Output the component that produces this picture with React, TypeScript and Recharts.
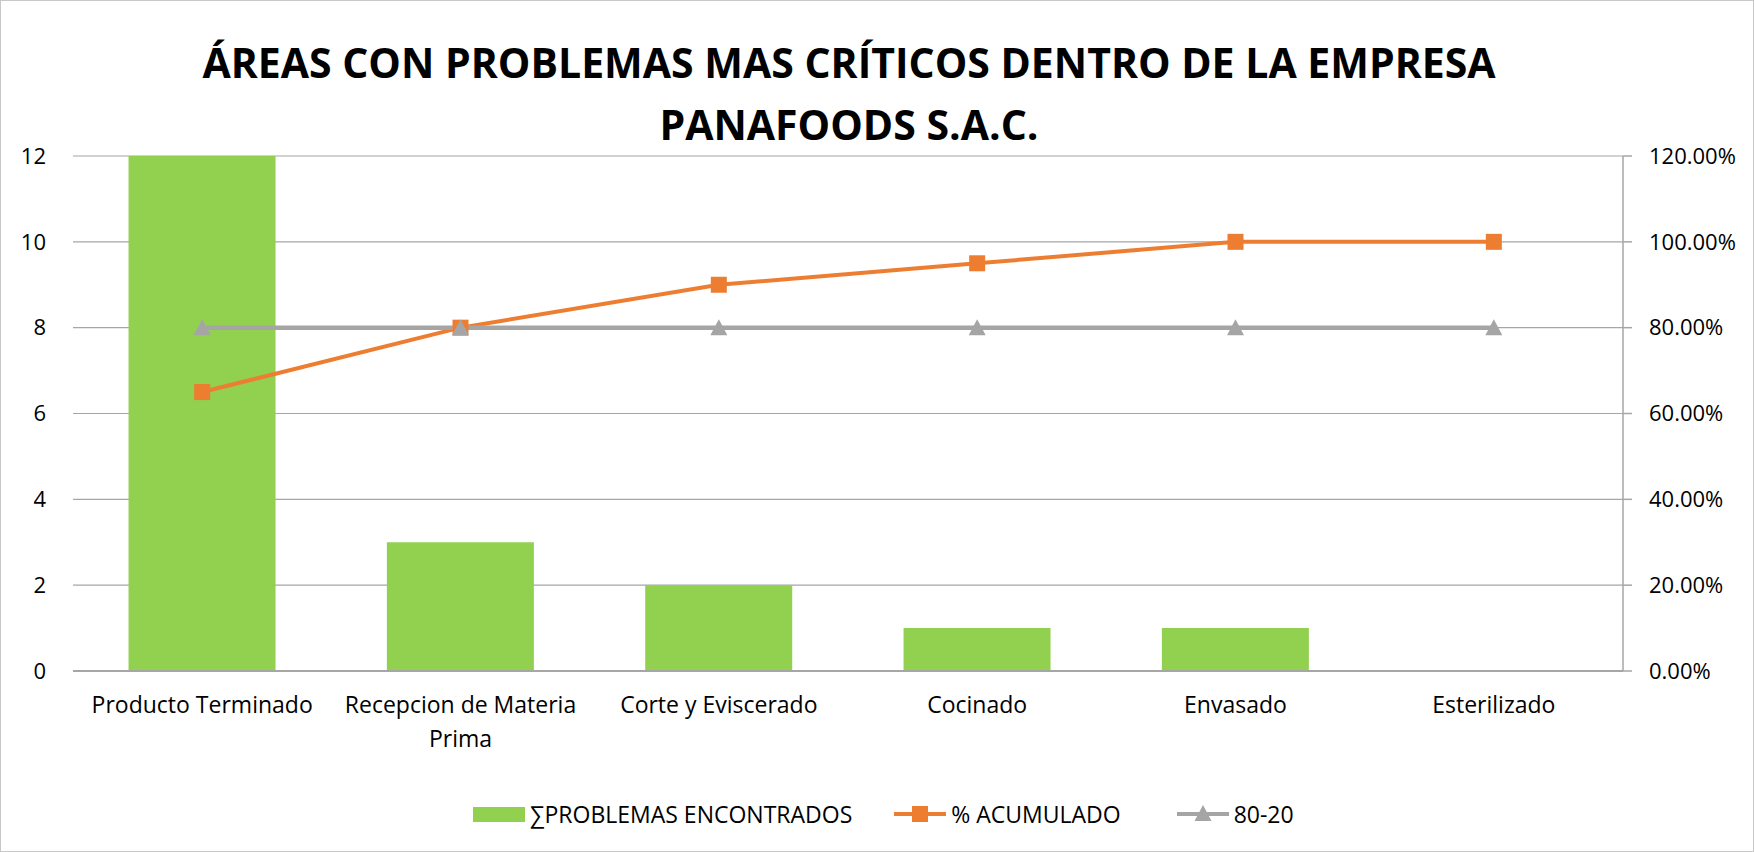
import React from "react";
import {
  ComposedChart,
  Bar,
  Line,
  XAxis,
  YAxis,
  CartesianGrid,
} from "recharts";

const categories = [
  "Producto Terminado",
  "Recepcion de Materia Prima",
  "Corte y Eviscerado",
  "Cocinado",
  "Envasado",
  "Esterilizado",
];
const problemas = [12, 3, 2, 1, 1, 0];
const acumulado = [0.65, 0.8, 0.9, 0.95, 1.0, 1.0];
const ochentaVeinte = [0.8, 0.8, 0.8, 0.8, 0.8, 0.8];
const leftTicks = [0, 2, 4, 6, 8, 10, 12];
const rightTicks = [0, 0.2, 0.4, 0.6, 0.8, 1.0, 1.2];
const titleLines = [
  "ÁREAS CON PROBLEMAS MAS CRÍTICOS DENTRO DE LA EMPRESA",
  "PANAFOODS S.A.C.",
];
const seriesNames = ["∑PROBLEMAS ENCONTRADOS", "% ACUMULADO", "80-20"];

const data = categories.map((name, i) => ({
  name,
  problemas: problemas[i],
  acumulado: acumulado[i],
  ochenta: ochentaVeinte[i],
}));

const FONT = "'Open Sans', 'Noto Sans', sans-serif";
const GREEN = "#92d050";
const ORANGE = "#ed7d31";
const GRAY = "#a5a5a5";
const GRID = "#a6a6a6";

const W = 1754;
const H = 852;
const TICK_FONT = 23;
const WRAP_WIDTH = 250;

let measureCtx: CanvasRenderingContext2D | null = null;
function measure(text: string): number {
  if (typeof document === "undefined") return text.length * TICK_FONT * 0.5;
  if (!measureCtx) {
    const c = document.createElement("canvas");
    measureCtx = c.getContext("2d");
  }
  if (!measureCtx) return text.length * TICK_FONT * 0.5;
  measureCtx.font = `${TICK_FONT}px 'Open Sans', 'Noto Sans', sans-serif`;
  return measureCtx.measureText(text).width;
}

function wrap(text: string): string[] {
  const words = text.split(" ");
  const lines: string[] = [];
  let cur = "";
  for (const w of words) {
    const cand = cur ? cur + " " + w : w;
    if (cur && measure(cand) > WRAP_WIDTH) {
      lines.push(cur);
      cur = w;
    } else {
      cur = cand;
    }
  }
  if (cur) lines.push(cur);
  return lines;
}

const XTick = (props: any) => {
  const { x, y, payload } = props;
  const lines = wrap(String(payload.value));
  return (
    <text
      x={x}
      y={y}
      textAnchor="middle"
      fontSize={TICK_FONT}
      fontFamily={FONT}
      fill="#000"
    >
      {lines.map((l, i) => (
        <tspan key={i} x={x} y={y + 42 + i * 34}>
          {l}
        </tspan>
      ))}
    </text>
  );
};

const SquareDot = (props: any) => {
  const { cx, cy, index } = props;
  if (cx == null || cy == null) return <g key={`sq-${index}`} />;
  const s = 16;
  return (
    <rect
      key={`sq-${index}`}
      x={cx - s / 2}
      y={cy - s / 2}
      width={s}
      height={s}
      fill={ORANGE}
    />
  );
};

const TriangleDot = (props: any) => {
  const { cx, cy, index } = props;
  if (cx == null || cy == null) return <g key={`tr-${index}`} />;
  const w = 17;
  const h = 15;
  return (
    <path
      key={`tr-${index}`}
      d={`M${cx},${cy - h / 2 - 1} L${cx + w / 2},${cy + h / 2} L${cx - w / 2},${cy + h / 2} Z`}
      fill={GRAY}
    />
  );
};

const LegendItem = ({ kind, label, gap }: { kind: string; label: string; gap: number }) => {
  let icon: React.ReactNode;
  if (kind === "bar") {
    icon = <div style={{ width: 52, height: 15, background: GREEN }} />;
  } else {
    icon = (
      <svg width={52} height={20} style={{ display: "block" }}>
        <line x1={0} y1={10} x2={52} y2={10} stroke={kind === "sq" ? ORANGE : GRAY} strokeWidth={4} />
        {kind === "sq" ? (
          <rect x={18} y={2} width={16} height={16} fill={ORANGE} />
        ) : (
          <path d="M26,1 L34.5,17 L17.5,17 Z" fill={GRAY} />
        )}
      </svg>
    );
  }
  return (
    <div style={{ display: "flex", alignItems: "center", marginRight: gap }}>
      {icon}
      <span style={{ marginLeft: 5, fontSize: 23, fontFamily: FONT, color: "#000", lineHeight: "26px", whiteSpace: "nowrap" }}>
        {label}
      </span>
    </div>
  );
};

export default function App() {
  return (
    <div
      style={{
        position: "relative",
        width: W,
        height: H,
        background: "#fff",
        boxSizing: "border-box",
        border: "1.5px solid #c8c8c8",
        overflow: "hidden",
      }}
    >
      <style>{"body{margin:0;}"}</style>
      <svg
        width={W}
        height={150}
        style={{ position: "absolute", left: 0, top: 0 }}
      >
        {titleLines.map((t, i) => (
          <text
            key={i}
            x={848}
            y={77 + i * 62}
            textAnchor="middle"
            fontFamily={FONT}
            fontWeight={700}
            fontSize={41}
            fill="#000"
          >
            {t}
          </text>
        ))}
      </svg>
      <div style={{ position: "absolute", left: 0, top: 0 }}>
        <ComposedChart
          width={W}
          height={H}
          data={data}
          margin={{ top: 155, right: 0, bottom: 82, left: 0 }}
          barCategoryGap="21.5%"
        >
          <CartesianGrid
            yAxisId="left"
            vertical={false}
            stroke={GRID}
            strokeWidth={1.2}
          />
          <XAxis
            dataKey="name"
            height={100}
            interval={0}
            tickLine={false}
            tickSize={0}
            tickMargin={0}
            axisLine={{ stroke: GRID, strokeWidth: 2 }}
            tick={<XTick />}
          />
          <YAxis
            yAxisId="left"
            width={72}
            domain={[0, 12]}
            ticks={leftTicks}
            axisLine={false}
            tickLine={false}
            tickSize={0}
            tickMargin={27}
            tick={{ fontSize: 22, fontFamily: FONT, fill: "#000" }}
          />
          <YAxis
            yAxisId="right"
            orientation="right"
            width={132}
            domain={[0, 1.2]}
            ticks={rightTicks}
            axisLine={{ stroke: GRID, strokeWidth: 1.5 }}
            tickLine={{ stroke: GRID, strokeWidth: 1.5 }}
            tickSize={9}
            tickMargin={17}
            tickFormatter={(v: number) => (v * 100).toFixed(2) + "%"}
            tick={{ fontSize: 22, fontFamily: FONT, fill: "#000" }}
          />
          <Bar
            yAxisId="left"
            dataKey="problemas"
            name={seriesNames[0]}
            fill={GREEN}
            isAnimationActive={false}
          />
          <Line
            yAxisId="right"
            dataKey="acumulado"
            name={seriesNames[1]}
            stroke={ORANGE}
            strokeWidth={4}
            dot={SquareDot}
            activeDot={false}
            isAnimationActive={false}
          />
          <Line
            yAxisId="right"
            dataKey="ochenta"
            name={seriesNames[2]}
            stroke={GRAY}
            strokeWidth={4.5}
            dot={TriangleDot}
            activeDot={false}
            isAnimationActive={false}
          />
        </ComposedChart>
      </div>
      <div
        style={{
          position: "absolute",
          left: 472,
          top: 800,
          height: 26,
          display: "flex",
          justifyContent: "flex-start",
          alignItems: "center",
        }}
      >
        <LegendItem kind="bar" label={seriesNames[0]} gap={42} />
        <LegendItem kind="sq" label={seriesNames[1]} gap={56} />
        <LegendItem kind="tri" label={seriesNames[2]} gap={0} />
      </div>
    </div>
  );
}
